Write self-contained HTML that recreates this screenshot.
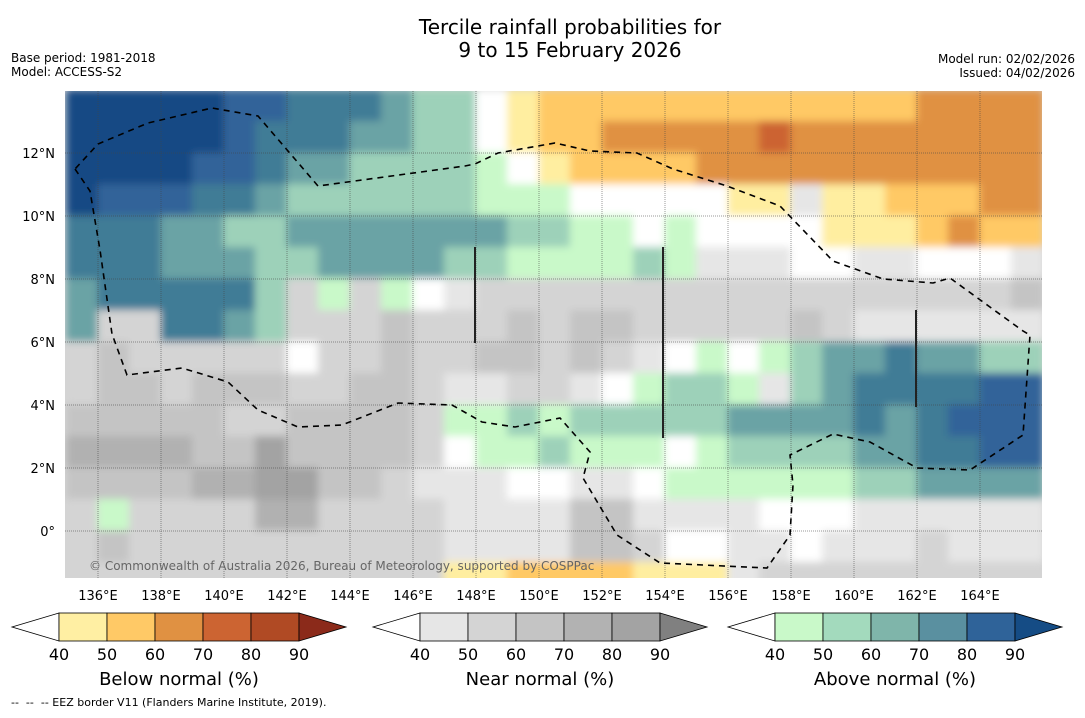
<!DOCTYPE html>
<html><head><meta charset="utf-8">
<style>
html,body{margin:0;padding:0;background:#fff;}
body{width:1085px;height:713px;overflow:hidden;font-family:"Liberation Sans","DejaVu Sans",sans-serif;}
text{font-family:"DejaVu Sans","Liberation Sans",sans-serif;}
</style></head>
<body>
<svg id="chart" width="1085" height="713" viewBox="0 0 1085 713" xmlns="http://www.w3.org/2000/svg">
  <defs>
    <clipPath id="mapclip"><rect x="65" y="91" width="977" height="487"/></clipPath>
    <filter id="soft" x="-5%" y="-5%" width="110%" height="110%"><feGaussianBlur stdDeviation="4"/></filter>
  </defs>
  <text x="570" y="34" font-size="20" text-anchor="middle" fill="#000">Tercile rainfall probabilities for</text>
  <text x="570" y="57" font-size="20" text-anchor="middle" fill="#000">9 to 15 February 2026</text>
  <text x="11" y="62" font-size="12">Base period: 1981-2018</text>
  <text x="11" y="76" font-size="12">Model: ACCESS-S2</text>
  <text x="1075" y="63" font-size="12" text-anchor="end">Model run: 02/02/2026</text>
  <text x="1075" y="77" font-size="12" text-anchor="end">Issued: 04/02/2026</text>
  <g id="map" clip-path="url(#mapclip)">
    <rect x="65" y="91" width="977" height="487" fill="#d4d4d4"/>
    <g id="cells" filter="url(#soft)"></g>
    <g id="grid"></g>
    <path id="eez" fill="none" stroke="#000" stroke-width="1.6" stroke-dasharray="6,5"
      d="M75,169 L90,191 L100,250 L112,334 L127,375 L182,368 L228,382 L258,410 L298,427 L342,425 L398,403 L452,405 L482,422 L515,427 L560,418 L590,452 L583,478 L617,535 L660,563 L767,568 L790,535 L793,485 L790,455 L833,434 L870,442 L917,468 L970,470 L1023,435 L1030,335 L1023,331 L950,278 L933,283 L883,279 L833,261 L780,206 L727,186 L673,169 L637,153 L590,151 L555,143 L498,153 L475,164 L465,166 L318,186 L258,116 L212,108 L148,123 L98,144 Z"/>
    <line x1="475" y1="247" x2="475" y2="343" stroke="#222" stroke-width="2"/>
    <line x1="663" y1="247" x2="663" y2="438" stroke="#222" stroke-width="2"/>
    <line x1="916" y1="310" x2="916" y2="407" stroke="#222" stroke-width="2"/>
    <text x="89" y="570" font-size="12" fill="#666">© Commonwealth of Australia 2026, Bureau of Meteorology, supported by COSPPac</text>
  </g>
  <g id="axes"></g>
  <g id="colorbars"></g>
  <text x="11" y="706" font-size="11" xml:space="preserve" style="white-space:pre">--  --  -- EEZ border V11 (Flanders Marine Institute, 2019).</text>
</svg>
<script>
// ---- data (1° cells, rows from 14°N downward, columns from 135°E eastward) ----
const lonStart = 135;
const latTop = 14;
const gridRows = [
"FFFFFEEDDDCBB.12222222222223333",
"FFFFFEDDDCCBB.12233333433333333",
"FFFFEEDCCBBBBA.1222233333333333",
"FEEEDDCBBBBBBAAA.....11a1122233",
"DDDCCBBCCCCCCCBBAA.A....1112322",
"DDDCCCBBCCCCBBAAAABAaaa..aa...a",
"CDDDDDBbAbA.abbbbbbbbbbbbbbbbbc",
"CbbDDCBbbbcbbbcbccbbbbbcbaaaaaa",
"bcbbbbb.bbcbbccbcba.A.ABCCDCCBB",
"bccbcccbbccbaabba.ABBAaBCDDDDEE",
"cccccbbccccbAABABBBBBCCCCDCDEEE",
"ddddcceccccb.AABAAA.ABBBBCCDDEE",
"ccccddeeccbaaa..aa.AAAAAABBCCCC",
"bAbbbbddbbbbaaaaccaaaa...aaaaaa",
"bcbbbbbbbbbbaaaaccb..aa.aaabaaa",
"bbbbbbbbbbbb112222111abbbbbbbbb"
];
const xTicks = [136,138,140,142,144,146,148,150,152,154,156,158,160,162,164];
const yTicks = [0,2,4,6,8,10,12];
const yTickLabels = ["0°","2°N","4°N","6°N","8°N","10°N","12°N"];
const barTicks = [40,50,60,70,80,90];
const belowColors = ["#ffefa3","#ffc966","#e09142","#cc6432","#b04a24"];
const nearColors = ["#e6e6e6","#d4d4d4","#c4c4c4","#b2b2b2","#a3a3a3"];
const aboveColors = ["#c9f9c9","#a3dabd","#7fb5aa","#5a90a0","#2f6399"];
const palette = {".":"#ffffff","A":"#c9f9c9","B":"#9dd1b9","C":"#6aa3a5","D":"#417c96","E":"#306399","F":"#124a84",
 "a":"#e6e6e6","b":"#d4d4d4","c":"#c4c4c4","d":"#b1b1b1","e":"#a3a3a3",
 "1":"#ffeea0","2":"#ffc965","3":"#e09142","4":"#cc6432"};

const NS="http://www.w3.org/2000/svg";
function xOf(lon){return 98+(lon-136)*31.5;}
function yOf(lat){return 531-lat*31.5;}
function mk(tag,attrs,parent){const e=document.createElementNS(NS,tag);for(const k in attrs)e.setAttribute(k,attrs[k]);parent.appendChild(e);return e;}

const cells=document.getElementById('cells');
gridRows.forEach((row,i)=>{
  for(let j=0;j<row.length;j++){
    const lon=lonStart+j, lat=latTop-i;
    const r=mk('rect',{x:xOf(lon)-0.5,y:yOf(lat)-0.5,width:32.5,height:32.5,fill:palette[row[j]]||"#d4d4d4"},cells);
    
    
  }
});

const grid=document.getElementById('grid');
xTicks.forEach(t=>{
  const l=mk('line',{x1:xOf(t),x2:xOf(t),y1:91,y2:578,stroke:"#444","stroke-width":1,"stroke-dasharray":"1,1",opacity:0.55},grid);
  
  
});
yTicks.forEach(t=>{
  const l=mk('line',{x1:65,x2:1042,y1:yOf(t),y2:yOf(t),stroke:"#444","stroke-width":1,"stroke-dasharray":"1,1",opacity:0.55},grid);
  
  
});

const axes=document.getElementById('axes');
xTicks.forEach(t=>{
  const tx=mk('text',{x:xOf(t),y:600,"font-size":13,"text-anchor":"middle"},axes);
  tx.textContent=t+"°E";
  
  
});
yTicks.forEach((t,i)=>{
  const tx=mk('text',{x:55,y:yOf(t)+5,"font-size":13,"text-anchor":"end"},axes);
  tx.textContent=yTickLabels[i];
  
  
});

const cb=document.getElementById('colorbars');
function colorbar(x0,colors,endColor,title,name){
  const g=mk('g',{},cb);
  
  
  const seg=48, y0=613, h=28, tri=47;
  mk('polygon',{points:`${x0+tri},${y0} ${x0},${y0+h/2} ${x0+tri},${y0+h}`,fill:"#fff",stroke:"#000","stroke-width":0.8},g);
  colors.forEach((c,i)=>{
    const r=mk('rect',{x:x0+tri+i*seg,y:y0,width:seg,height:h,fill:c,stroke:"#000","stroke-width":0.8},g);
    
    
  });
  const xe=x0+tri+colors.length*seg;
  mk('polygon',{points:`${xe},${y0} ${xe+tri},${y0+h/2} ${xe},${y0+h}`,fill:endColor,stroke:"#000","stroke-width":0.8},g);
  barTicks.forEach((t,i)=>{
    const tx=mk('text',{x:x0+tri+i*seg,y:660,"font-size":16,"text-anchor":"middle"},g);
    tx.textContent=t;
    
    
  });
  const tt=mk('text',{x:x0+tri+2.5*seg,y:685,"font-size":18,"text-anchor":"middle"},g);
  tt.textContent=title;
  
  
}
colorbar(12,belowColors,"#8b2a1a","Below normal (%)","below-normal-colorbar");
colorbar(373,nearColors,"#808080","Near normal (%)","near-normal-colorbar");
colorbar(728,aboveColors,"#154c85","Above normal (%)","above-normal-colorbar");
</script>
</body></html>
